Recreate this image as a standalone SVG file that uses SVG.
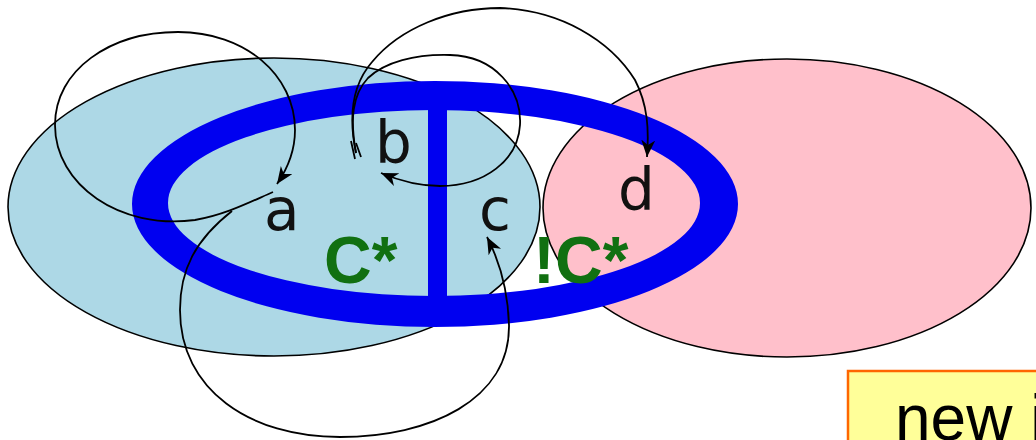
<svg xmlns="http://www.w3.org/2000/svg" width="1036" height="440" viewBox="0 0 1036 440">
<style>
.set{stroke:#000;stroke-width:1.6}
.ring{fill:#0000f0}
.lbl{font-family:"DejaVu Sans",sans-serif;font-size:58px;fill:#111}
.grn{font-family:"Liberation Sans",Arial,sans-serif;font-weight:bold;font-size:66px;fill:#117011}
.edge{fill:none;stroke:#000;stroke-width:1.8}
.note{fill:#ffff99;stroke:#ff6600;stroke-width:2.5}
.notetxt{font-family:"Liberation Sans",Arial,sans-serif;font-size:64px;fill:#000}
</style>
<defs>
<marker id="arr" markerUnits="userSpaceOnUse" markerWidth="20" markerHeight="16" refX="17" refY="7" orient="auto">
<path d="M0,0 L17,7 L0,14 L5,7 z" fill="#000"/>
</marker>
</defs>
<rect width="1036" height="440" fill="#fff"/>
<g id="setLeft"><ellipse class="set" cx="274" cy="207" rx="266" ry="149" fill="#add8e6"/></g>
<g id="setRight"><ellipse class="set" cx="787" cy="208" rx="244" ry="149" fill="#ffc0cb"/></g>
<g id="ring">
<path class="ring" fill-rule="evenodd" d="M132,204 A303,123 0 1 0 738,204 A303,123 0 1 0 132,204 Z M168,203 A266,93 0 1 1 700,203 A266,93 0 1 1 168,203 Z"/>
<rect class="ring" x="428" y="104" width="19" height="196"/>
</g>
<g id="connectors">
<path class="edge" marker-end="url(#arr)" d="M273,192 C250,202 225,215 195,220 C120,230 55,185 55,125 C55,70 110,32 178,32 C245,32 295,75 295,130 C295,150 288,168 277,184"/>
<path class="edge" marker-end="url(#arr)" d="M232,211 C195,240 180,270 180,310 C180,390 250,437 340,437 C430,437 510,400 509,325 C508,292 500,262 487,237"/>
<path class="edge" marker-end="url(#arr)" d="M356,153 C348,115 352,85 372,62 C400,28 450,8 500,8 C560,10 610,40 635,80 C648,105 649,130 647,157"/>
<path class="edge" marker-end="url(#arr)" d="M356,153 C350,120 352,95 368,78 C385,62 415,54 450,55 C495,56 522,90 520,125 C518,160 485,186 440,186 C418,186 400,181 381,173"/>
<path class="edge" d="M351,141 L355,159 M356,143 L361,157"/>
</g>
<g id="node-a"><text class="lbl" x="264" y="230">a</text></g>
<g id="node-b"><text class="lbl" x="375" y="163">b</text></g>
<g id="node-c"><text class="lbl" x="479" y="230">c</text></g>
<g id="node-d"><text class="lbl" x="618" y="210">d</text></g>
<g id="label-C"><text class="grn" x="324" y="283">C*</text></g>
<g id="label-notC"><text class="grn" x="533" y="283">!C*</text></g>
<g id="note">
<rect class="note" x="848" y="371" width="200" height="80"/>
<text class="notetxt" x="895" y="440">new i</text>
</g>
</svg>
